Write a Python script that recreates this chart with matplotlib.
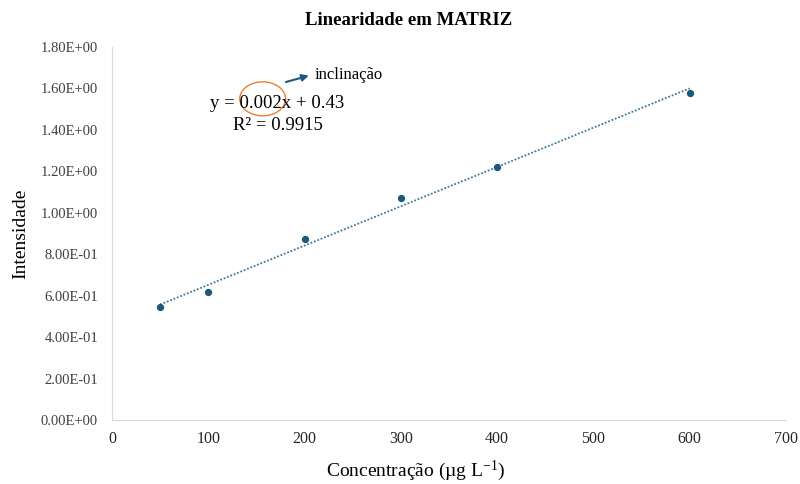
import numpy as np
import matplotlib
matplotlib.use("Agg")
import matplotlib.pyplot as plt
from matplotlib.patches import Ellipse
from matplotlib.ticker import FuncFormatter

# Calibration data
concentracao = [50, 100, 200, 300, 400, 600]
intensidade = [0.545, 0.616, 0.874, 1.072, 1.222, 1.576]
x_ticks = [0, 100, 200, 300, 400, 500, 600, 700]
y_ticks = [0.0, 0.2, 0.4, 0.6, 0.8, 1.0, 1.2, 1.4, 1.6, 1.8]
equation_text = "y = 0.002x + 0.43"
r2_text = "R² = 0.9915"

plt.rcParams['font.family'] = ['Liberation Serif', 'DejaVu Serif']
plt.rcParams['mathtext.fontset'] = 'custom'
plt.rcParams['mathtext.rm'] = 'Liberation Serif'
plt.rcParams['mathtext.it'] = 'Liberation Serif:italic'

fig = plt.figure(figsize=(8, 4.84), dpi=100)
ax = fig.add_axes([0.14, 0.132, 0.8425, 0.771])

color = '#1c5a7c'
ax.scatter(concentracao, intensidade, s=18, color=color, zorder=3)

# Linear trend line
slope, intercept = np.polyfit(concentracao, intensidade, 1)
xl = np.array([min(concentracao), max(concentracao)])
ax.plot(xl, slope * xl + intercept, linestyle=(0, (1, 1)), color='#3b7a9e', lw=1.3, zorder=2)

ax.set_xlim(0, 700)
ax.set_ylim(0, 1.8)
ax.set_xticks(x_ticks)
ax.set_yticks(y_ticks)
ax.yaxis.set_major_formatter(FuncFormatter(lambda v, p: f"{v:.2E}"))
ax.tick_params(length=0, labelsize=10.5, colors='#404040', pad=10)
ax.tick_params(axis='x', labelsize=11.5, labelcolor='#262626', pad=8)
for s in ['top', 'right']:
    ax.spines[s].set_visible(False)
for s in ['left', 'bottom']:
    ax.spines[s].set_color('#d9d9d9')

fig.text(0.511, 0.958, "Linearidade em MATRIZ", fontsize=13.5, fontweight='bold',
         ha='center', va='center')
fig.text(0.519, 0.028, "Concentração (µg L$^{\\mathrm{-1}}$)", fontsize=14,
         ha='center', va='center')
ax.set_ylabel("Intensidade", fontsize=14, labelpad=8)

# Equation annotation
ax.text(0.145, 0.848, equation_text, transform=ax.transAxes, fontsize=13.5, va='center')
ax.text(0.179, 0.789, r2_text, transform=ax.transAxes, fontsize=13.5, va='center')
ax.add_patch(Ellipse((0.2235, 0.861), 0.068, 0.091, transform=ax.transAxes,
                     fill=False, edgecolor='#ed7d31', lw=1.0))
ax.annotate("", xy=(0.296, 0.925), xytext=(0.254, 0.904), xycoords='axes fraction',
            arrowprops=dict(arrowstyle='-|>', color=color, lw=1.5, mutation_scale=10))
ax.text(0.301, 0.925, "inclinação", transform=ax.transAxes, fontsize=12, va='center')

fig.savefig("out.png", dpi=100, facecolor='white')
